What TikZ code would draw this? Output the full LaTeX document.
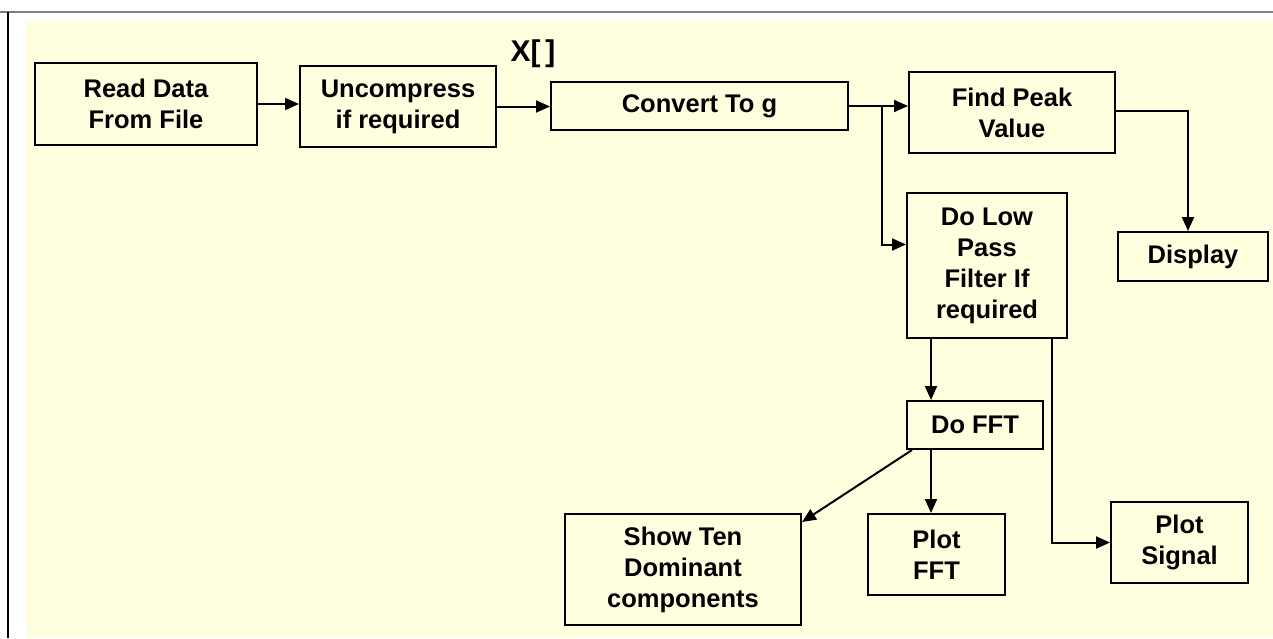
\documentclass[tikz,border=0pt]{standalone}
\usepackage{fontspec}
\setmainfont{Liberation Sans}
\usetikzlibrary{arrows.meta}

\definecolor{paper}{RGB}{255,255,224}

\tikzset{
	blk/.style={draw, line width=2pt, align=center, inner sep=0pt,
		font=\bfseries\fontsize{25.5}{31}\selectfont},
	flow/.style={line width=2pt, -{Triangle[length=14pt,width=12pt]}},
}

\begin{document}
\begin{tikzpicture}[x=1pt, y=-1pt]
	\useasboundingbox (0,0) rectangle (1273,638);
	\fill[paper] (26,20) rectangle (1273,638);
	\draw[gray, line width=1.5pt] (0,12) -- (1273,12);
	\draw[line width=1.5pt] (8,12) -- (8,638);

	\node[blk, minimum width=222pt, minimum height=82pt] (read) at (146,104) {Read Data\\From File};
	\node[blk, minimum width=196pt, minimum height=81pt] (uncomp) at (398,106.5) {Uncompress\\if required};
	\node[blk, minimum width=297pt, minimum height=48pt] (conv) at (699.5,106) {Convert To g};
	\node[font=\bfseries\fontsize{30}{32}\selectfont, inner sep=0pt] (xarr) at (533,54) {X[\,]};

	\node[blk, minimum width=206pt, minimum height=81pt] (peak) at (1012,112.5) {Find Peak\\Value};
	\node[blk, minimum width=150pt, minimum height=49pt] (disp) at (1193,256.5) {Display};
	\node[blk, minimum width=160pt, minimum height=145pt] (lpf) at (987,265.5) {Do Low\\Pass\\Filter If\\required};

	\node[blk, minimum width=136pt, minimum height=48pt] (fft) at (975,425) {Do FFT};
	\node[blk, minimum width=236pt, minimum height=111pt] (show) at (683,569.5) {Show Ten\\Dominant\\components};
	\node[blk, minimum width=137pt, minimum height=81pt] (pfft) at (936.5,554.5) {Plot\\FFT};
	\node[blk, minimum width=137pt, minimum height=81pt] (psig) at (1179.5,542.5) {Plot\\Signal};

	\coordinate (split) at (882,106);

	\draw[flow] (read.east) -- (read.east -| uncomp.west);
	\draw[flow] (uncomp.east) -- (uncomp.east -| conv.west);
	\draw[flow] (conv.east) -- (conv.east -| peak.west);
	\draw[flow] (split) |- ([yshift=21pt]lpf.west);
	\draw[flow] ([yshift=2pt]peak.east) -| ([xshift=-5pt]disp.north);

	\draw[flow] ([xshift=-44pt]fft.north |- lpf.south) -- ([xshift=-44pt]fft.north);
	\draw[flow] ([xshift=-16pt]lpf.south east) |- (psig.west);
	\draw[flow] ([xshift=-44pt]fft.south) -- ([xshift=-44pt]fft.south |- pfft.north);
	\draw[flow] ([xshift=6pt]fft.south west) -- ([yshift=-9pt]show.north east);
\end{tikzpicture}
\end{document}
